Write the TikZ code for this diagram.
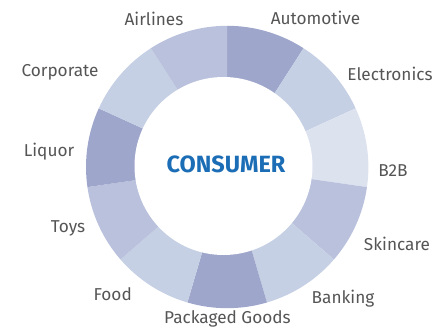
\documentclass[tikz,border=0pt]{standalone}
\usepackage{fontspec}
\setmainfont{Fira Sans}
\definecolor{segdark}{HTML}{9FA6CB}
\definecolor{segmid}{HTML}{B9C1DD}
\definecolor{seglight}{HTML}{C6D0E4}
\definecolor{segpale}{HTML}{DDE2EF}
\definecolor{labelgray}{HTML}{555555}
\definecolor{titleblue}{HTML}{1B6DB5}
\begin{document}
\begin{tikzpicture}[x=1pt,y=-1pt,
  lbl/.style={text=labelgray,font=\fontsize{17.2}{19}\selectfont,inner sep=0pt,anchor=base},
  title/.style={text=titleblue,font=\bfseries\fontsize{23.5}{26}\selectfont,inner sep=0pt,anchor=base}]
\useasboundingbox (0,0) rectangle (440,332);
% ring centre and radii
\coordinate (c) at (227.2,167);
\coordinate (hole) at (223.5,166);
\def\Rout{141.2}
\def\Rin{89}
% eleven equal sectors, clockwise from the top
\foreach \i/\col in {0/segdark,1/seglight,2/segpale,3/segmid,4/seglight,5/segdark,6/seglight,7/segmid,8/segdark,9/seglight,10/segmid}{
  \pgfmathsetmacro\a{-90+\i*360/11}
  \pgfmathsetmacro\b{-90+(\i+1)*360/11}
  \fill[\col] (c) -- ([shift={(\a:\Rout)}]c) arc[start angle=\a,end angle=\b,radius=\Rout] -- cycle;
}
\fill[white] (hole) circle[radius=\Rin];
% centre title
\node[title] (consumer) at (226,172) {CONSUMER};
% sector labels
\node[lbl] (automotive) at (315.5,24) {Automotive};
\node[lbl] (electronics) at (390,81) {Electronics};
\node[lbl] (b2b) at (393,176.5) {B2B};
\node[lbl] (skincare) at (397,250.5) {Skincare};
\node[lbl] (banking) at (343,303) {Banking};
\node[lbl] (packaged) at (227.5,323) {Packaged Goods};
\node[lbl] (food) at (112.7,300) {Food};
\node[lbl] (toys) at (68,232) {Toys};
\node[lbl] (liquor) at (49,156) {Liquor};
\node[lbl] (corporate) at (60,76) {Corporate};
\node[lbl] (airlines) at (154,26) {Airlines};
\end{tikzpicture}
\end{document}
